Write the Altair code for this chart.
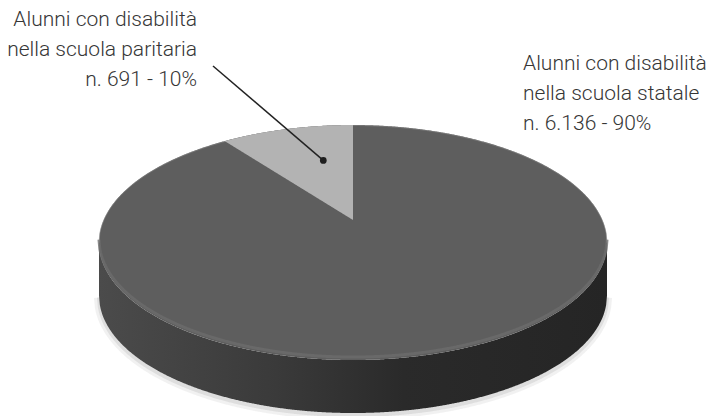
import numpy as np
import pandas as pd
import altair as alt

# Data
categories = ["Alunni con disabilità\nnella scuola paritaria",
              "Alunni con disabilità\nnella scuola statale"]
counts = [691, 6136]
slice_colors = ["#b3b3b3", "#5e5e5e"]

total = sum(counts)
shares = [c / total for c in counts]
percent = [round(s * 100) for s in shares]


def it_number(n):
    return f"{n:,}".replace(",", ".")


labels = [f"{cat}\nn. {it_number(c)} - {p}%" for cat, c, p in zip(categories, counts, percent)]

# Perspective view of a flat disc (3D pie)
W, H = 713, 416
CX, CY = 353, 220          # projected centre of the pie
SX, SY = 249.3, 113.2      # horizontal / vertical radius scale
K = 0.1916                 # perspective strength
DEPTH = 53                 # thickness of the disc in pixels


def project(u, v):
    s = 1.0 / (1.0 + K * v)
    return CX + SX * u * s, CY - SY * v * s


def rim(a):
    """Upper and lower edge of the projected disc at normalised x = a."""
    disc = np.sqrt(np.maximum(K ** 2 + (1 - K ** 2) * (1 - a ** 2), 0))
    b_up = (-K + disc) / (1 - K ** 2)
    b_lo = (-K - disc) / (1 - K ** 2)
    return CY - SY * b_up, CY - SY * b_lo


amax = 1 / np.sqrt(1 - K ** 2)
a = np.linspace(-amax, amax, 600)
top_y, bot_y = rim(a)
face = pd.DataFrame({"x": CX + SX * a, "y": top_y, "y2": bot_y})
band = pd.DataFrame({"x": CX + SX * a, "y": bot_y, "y2": bot_y + DEPTH})
shadow = pd.DataFrame({"x": CX + SX * a, "y": bot_y + DEPTH + 2})
bevel = pd.DataFrame({"x": CX + SX * a, "y": bot_y - 3})
back_edge = pd.DataFrame({"x": CX + SX * a, "y": top_y + 0.5})

# Smaller slice, running counter-clockwise from 12 o'clock
theta = 2 * np.pi * shares[0]
px, py = project(-np.sin(theta), np.cos(theta))
aP = (px - CX) / SX
a_s = np.linspace(aP, 0, 200)
s_top, _ = rim(a_s)
s_x = CX + SX * a_s
s_low = CY + (py - CY) * (s_x - CX) / (px - CX)
small = pd.DataFrame({"x": s_x, "y": s_top, "y2": s_low})

# Leader anchor inside the small slice
t_mid = 0.35 * theta
dx, dy = project(-0.6 * np.sin(t_mid), 0.6 * np.cos(t_mid))
leader = pd.DataFrame({"x": [213], "y": [66], "x2": [dx], "y2": [dy]})
anchor = pd.DataFrame({"x": [dx], "y": [dy]})

xs = alt.Scale(domain=[0, W], nice=False, zero=False)
ys = alt.Scale(domain=[0, H], nice=False, zero=False, reverse=True)
X = alt.X("x:Q", scale=xs, axis=None)
Y = alt.Y("y:Q", scale=ys, axis=None)

shadow_wide = alt.Chart(shadow).mark_line(color="#ededed", strokeWidth=10, opacity=0.8).encode(x=X, y=Y)
shadow_narrow = alt.Chart(shadow).mark_line(color="#d6d6d6", strokeWidth=4, opacity=0.7).encode(x=X, y=Y)

side = alt.Chart(band).mark_area(
    color=alt.LinearGradient(
        gradient="linear",
        stops=[alt.GradientStop(color="#4b4b4b", offset=0),
               alt.GradientStop(color="#3a3a3a", offset=0.35),
               alt.GradientStop(color="#2a2a2a", offset=0.6),
               alt.GradientStop(color="#252525", offset=1)],
        x1=0, x2=1, y1=0, y2=0),
).encode(x=X, y=Y, y2="y2:Q")

top = alt.Chart(face).mark_area(color=slice_colors[1]).encode(x=X, y=Y, y2="y2:Q")
bevel_line = alt.Chart(bevel).mark_line(color="#6c6c6c", strokeWidth=3, opacity=0.8).encode(x=X, y=Y)
edge_line = alt.Chart(back_edge).mark_line(color="#8a8a8a", strokeWidth=1, opacity=0.6).encode(x=X, y=Y)
small_slice = alt.Chart(small).mark_area(color=slice_colors[0]).encode(x=X, y=Y, y2="y2:Q")

rule = alt.Chart(leader).mark_rule(color="#222222", strokeWidth=1.5).encode(
    x=X, y=Y, x2="x2:Q", y2="y2:Q")
dot = alt.Chart(anchor).mark_circle(color="#1e1e1e", size=45, opacity=1).encode(x=X, y=Y)

text_style = dict(font="Roboto", fontSize=21, fontWeight=300, color="#363636",
                  lineBreak="\n", lineHeight=30, baseline="alphabetic")
label_left = alt.Chart(pd.DataFrame({"t": [labels[0]]})).mark_text(
    align="right", **text_style).encode(text="t:N", x=alt.value(197), y=alt.value(26))
label_right = alt.Chart(pd.DataFrame({"t": [labels[1]]})).mark_text(
    align="left", **text_style).encode(text="t:N", x=alt.value(523), y=alt.value(70))

chart = alt.layer(
    shadow_wide, shadow_narrow, side, top, bevel_line, edge_line, small_slice,
    rule, dot, label_left, label_right,
).properties(
    width=W, height=H, padding=0,
    autosize=alt.AutoSizeParams(type="none"),
).configure_view(stroke=None)

chart.save("out.html", embed_options={"renderer": "svg", "actions": False})
